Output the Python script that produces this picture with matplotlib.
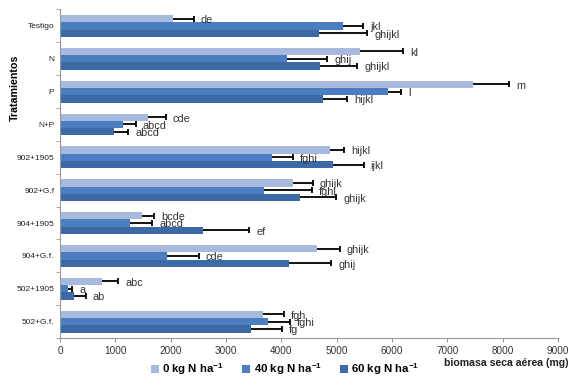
import matplotlib
matplotlib.use('Agg')
import matplotlib.pyplot as plt
from matplotlib.patches import Patch

plt.rcParams['font.family'] = ['Liberation Sans', 'DejaVu Sans']
plt.rcParams['mathtext.fontset'] = 'custom'
plt.rcParams['mathtext.bf'] = 'Liberation Sans:bold'
plt.rcParams['mathtext.rm'] = 'Liberation Sans'

tratamientos = ['Testigo', 'N', 'P', 'N+P', '902+1905', '902+G.f',
                '904+1905', '904+G.f.', '502+1905', '502+G.f.']

# biomasa seca aerea (mg) por dosis de N
n0 = [2040, 5420, 7460, 1590, 4880, 4210, 1480, 4650, 750, 3660]
n40 = [5120, 4100, 5930, 1140, 3830, 3690, 1265, 1940, 150, 3750]
n60 = [4680, 4700, 4760, 980, 4930, 4340, 2590, 4130, 250, 3450]

# error (solo hacia la derecha)
e0 = [380, 780, 660, 320, 250, 360, 220, 410, 300, 380]
e40 = [360, 730, 230, 230, 380, 860, 400, 570, 70, 400]
e60 = [870, 670, 430, 250, 560, 650, 830, 770, 220, 565]

# letras de significancia
l0 = ['de', 'kl', 'm', 'cde', 'hijkl', 'ghijk', 'bcde', 'ghijk', 'abc', 'fgh']
l40 = ['jkl', 'ghij', 'l', 'abcd', 'fghi', 'fghi', 'abcd', 'cde', 'a', 'fghi']
l60 = ['ghijkl', 'ghijkl', 'hijkl', 'abcd', 'ijkl', 'ghijk', 'ef', 'ghij', 'ab', 'fg']

series = [
    (n0, e0, l0, '#a7b9dc', r'0 kg N ha$^{\mathbf{-1}}$'),
    (n40, e40, l40, '#4a7ec1', r'40 kg N ha$^{\mathbf{-1}}$'),
    (n60, e60, l60, '#3d69a4', r'60 kg N ha$^{\mathbf{-1}}$'),
]

fig = plt.figure(figsize=(5.84, 3.86), dpi=100)
ax = fig.add_axes([60 / 584, 1 - 338 / 386, 498 / 584, 328.5 / 386])

h = 0.222
pos = list(range(len(tratamientos)))
for k, (vals, errs, labs, col, name) in enumerate(series):
    y = [p + (k - 1) * h for p in pos]
    ax.barh(y, vals, height=h, color=col, edgecolor='none')
    ends = [v + e for v, e in zip(vals, errs)]
    ax.hlines(y, vals, ends, color='black', lw=1.3, zorder=3)
    ax.plot(ends, y, ls='none', marker='|', ms=5, mew=1.3, color='black', zorder=3)
    for yy, xe, t in zip(y, ends, labs):
        ax.annotate(t, (xe, yy), xytext=(5, -1), textcoords='offset points',
                    ha='left', va='center', fontsize=7.8, color='#333333')

ax.set_xlim(0, 9000)
ax.set_ylim(len(tratamientos) - 0.5, -0.5)
ax.set_xticks(range(0, 9001, 1000))
ax.set_yticks(pos)
ax.set_yticklabels(tratamientos, fontsize=6, color='#222222')
ax.set_yticks([p - 0.5 for p in pos] + [len(pos) - 0.5], minor=True)
ax.tick_params(axis='y', which='major', length=0, pad=4)
ax.tick_params(axis='y', which='minor', length=3, color='#999999')
ax.tick_params(axis='x', length=3, color='#999999', labelsize=7.2,
               labelcolor='#333333', pad=3)
for s in ['top', 'right']:
    ax.spines[s].set_visible(False)
for s in ['left', 'bottom']:
    ax.spines[s].set_color('#999999')

fig.text(15 / 584, 1 - 88 / 386, 'Tratamientos', rotation=90, ha='center',
         va='center', fontsize=7.7, fontweight='bold')
fig.text(568 / 584, 1 - 362.5 / 386, 'biomasa seca aérea (mg)', ha='right',
         va='center', fontsize=7.6, fontweight='bold', color='#222222')

handles = [Patch(facecolor=s[3], edgecolor='none') for s in series]
fig.legend(handles, [s[4] for s in series], loc='center',
           bbox_to_anchor=(285 / 584, 1 - 369 / 386), ncol=3, frameon=False,
           handlelength=0.7, handleheight=0.7, handletextpad=0.3,
           columnspacing=1.6, prop={'weight': 'bold', 'size': 8.2})

fig.savefig('out.png', dpi=100)
